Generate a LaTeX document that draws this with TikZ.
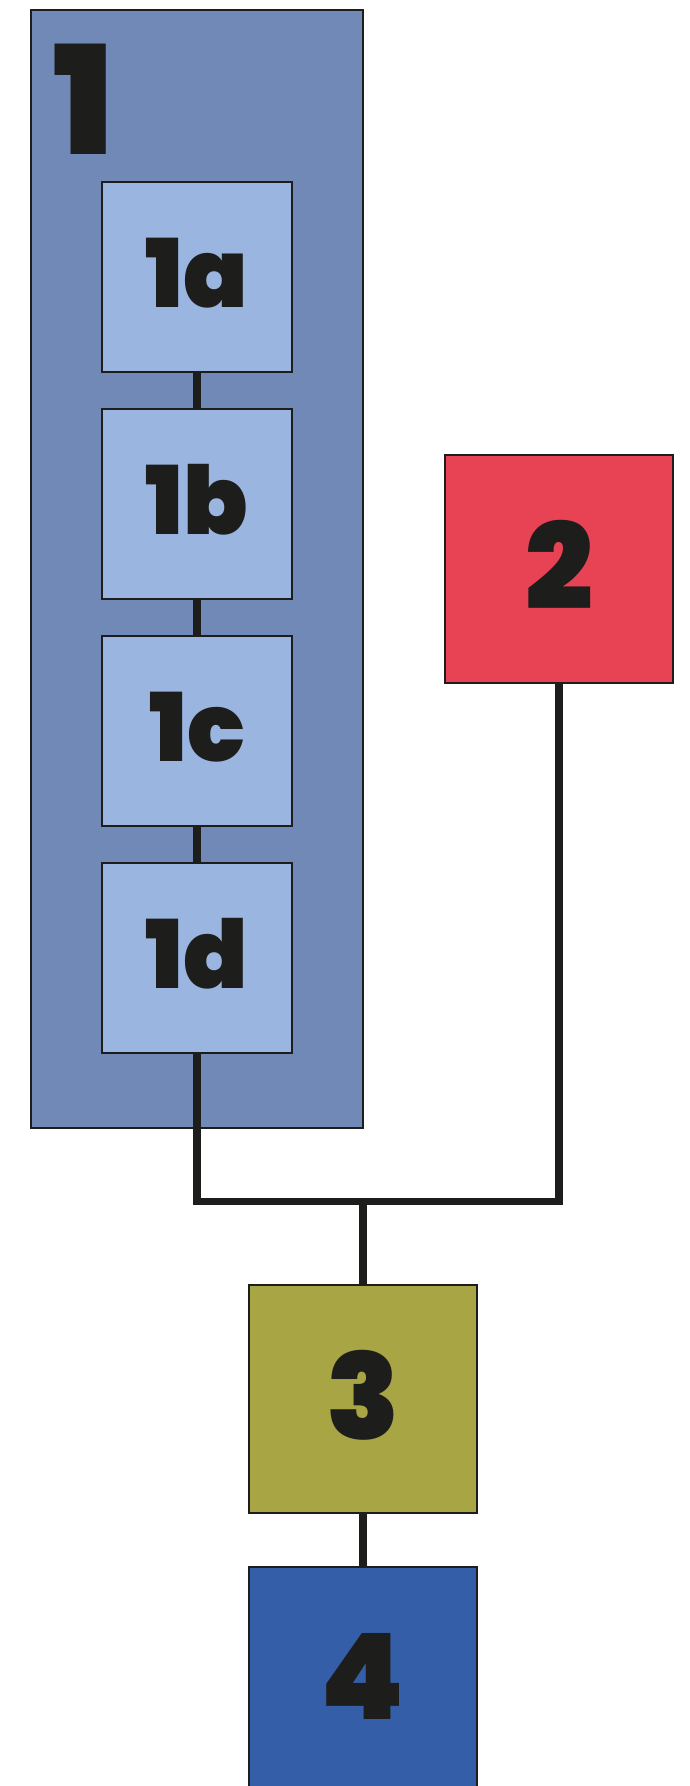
\documentclass[tikz,border=0pt]{standalone}
\usepackage{fontspec}
\IfFontExistsTF{Poppins Black}
  {\newfontfamily\numfont{Poppins Black}}
  {\newfontfamily\numfont{Poppins}[UprightFont={* Bold}]}

\definecolor{groupblue}{HTML}{7189B7}
\definecolor{stepblue}{HTML}{99B5E0}
\definecolor{stagered}{HTML}{E84355}
\definecolor{stageolive}{HTML}{A8A545}
\definecolor{stageblue}{HTML}{345FA8}
\definecolor{ink}{HTML}{1D1D1B}

\def \boxsize {4.56cm}
\def \substepsize {3.8cm}
\def \substepx {3.94}

\tikzset{
  stagebox/.style={draw=ink, line width=1.4pt, minimum size=\boxsize, inner sep=0pt,
    text=ink, text depth=0.18cm, font=\numfont\fontsize{68}{72}\selectfont},
  substep/.style={stagebox, fill=stepblue, minimum size=\substepsize,
    font=\numfont\fontsize{54}{58}\selectfont},
  link/.style={draw=ink, line width=4pt}
}

\begin{document}
\begin{tikzpicture}
\useasboundingbox (0,0) rectangle (13.8,-35.72);

% group 1 with its four steps
\node[stagebox, fill=groupblue, minimum width=6.64cm, minimum height=22.36cm] (g1) at (3.94,-11.38) {};
\node[text=ink, inner sep=0pt, font=\numfont\fontsize{86}{90}\selectfont] (g1label) at (1.68,-1.99) {1};

\draw[link] (3.94,-5.54) coordinate (s1a) -- (3.94,-19.16) coordinate (s1d);
\node[substep] (n1a) at (\substepx,-5.54) {1a};
\node[substep] (n1b) at (\substepx,-10.08) {1b};
\node[substep] (n1c) at (\substepx,-14.62) {1c};
\node[substep] (n1d) at (\substepx,-19.16) {1d};

\node[stagebox, fill=stagered] (n2) at (11.18,-11.38) {2};
\node[stagebox, fill=stageolive] (n3) at (7.26,-27.98) {3};
\node[stagebox, fill=stageblue] (n4) at (7.26,-33.62) {4};

% joins 1 and 2 into 3
\coordinate (bus) at (7.26,-24.02);
\draw[link] (n1d.south) |- (bus) -| (n2.south);
\draw[link] (bus) -- (n3.north);
\draw[link] (n3) -- (n4);
\end{tikzpicture}
\end{document}
